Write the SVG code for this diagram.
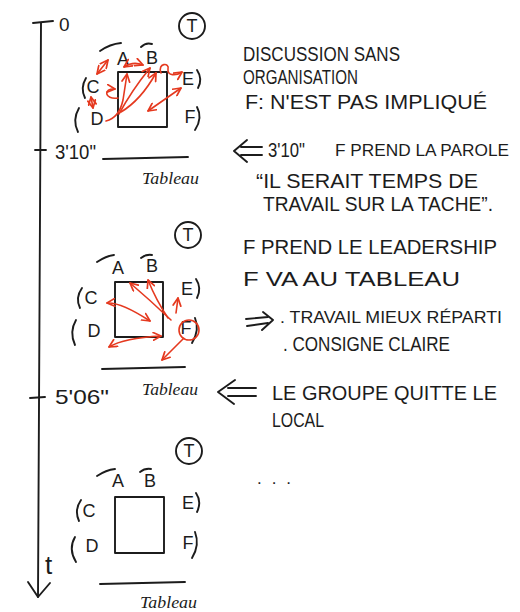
<svg xmlns="http://www.w3.org/2000/svg" width="520" height="612" viewBox="0 0 520 612">
<style>
.ink{fill:none;stroke:#1c1c1c;stroke-width:1.9;stroke-linecap:round;stroke-linejoin:round}
.red{fill:none;stroke:#e5391f;stroke-width:1.6;stroke-linecap:round;stroke-linejoin:round}
.t{font-family:"Liberation Sans",Arial,sans-serif;fill:#1c1c1c}
.lbl{font-family:"Liberation Sans",Arial,sans-serif;font-size:18px;fill:#1c1c1c;text-anchor:middle}
.note{font-family:"Liberation Sans",Arial,sans-serif;font-size:20px;fill:#1c1c1c}
.tab{font-family:"Liberation Serif","Times New Roman",serif;font-style:italic;font-size:17px;fill:#1c1c1c}
</style>
<defs>
<marker id="ah" viewBox="0 0 10 10" refX="9" refY="5" markerWidth="6" markerHeight="6" orient="auto-start-reverse">
<path d="M1,1 L9,5 L1,9" fill="none" stroke="#e5391f" stroke-width="1.8" stroke-linecap="round" stroke-linejoin="round"/>
</marker>
</defs>
<rect width="520" height="612" fill="#ffffff"/>

<g id="timeline">
<path class="ink" d="M41,23 L38,597"/>
<path class="ink" d="M33,23 L53,21"/>
<path class="ink" d="M28,582 L38,597 L50,583"/>
<path class="ink" d="M35,150 L46,150"/>
<path class="ink" d="M30,398 L45,397"/>
<text class="t" x="59" y="31" font-size="19">0</text>
<text class="t" x="55" y="159" font-size="21" textLength="41" lengthAdjust="spacingAndGlyphs">3'10"</text>
<text class="t" x="55" y="404" font-size="21" textLength="54" lengthAdjust="spacingAndGlyphs">5'06"</text>
<text class="t" x="45" y="574" font-size="26">t</text>
</g>

<g id="scene1">
<circle class="ink" cx="192" cy="26" r="13"/>
<text class="lbl" x="192" y="32">T</text>
<path class="ink" d="M100,51 Q110,44 121,43"/>
<path class="ink" d="M141,47 Q146,42 152,44"/>
<path class="ink" d="M86,78 Q80,88 85,98"/>
<path class="ink" d="M79,108 Q72,120 78,132"/>
<path class="ink" d="M197,70 Q203,79 198,88"/>
<path class="ink" d="M197,107 Q203,118 195,130"/>
<rect class="ink" x="118" y="72" width="49" height="55"/>
<text class="lbl" x="123" y="65">A</text>
<text class="lbl" x="152" y="64">B</text>
<text class="lbl" x="93" y="93">C</text>
<text class="lbl" x="97" y="125">D</text>
<text class="lbl" x="188" y="85">E</text>
<text class="lbl" x="190" y="123">F</text>
<path class="ink" d="M103,159 L188,157"/>
<text class="tab" x="142" y="184" textLength="57" lengthAdjust="spacingAndGlyphs">Tableau</text>
</g>

<g id="scene2">
<circle class="ink" cx="188" cy="235" r="13"/>
<text class="lbl" x="188" y="241">T</text>
<path class="ink" d="M97,262 Q106,256 114,255"/>
<path class="ink" d="M141,258 Q146,254 152,255"/>
<path class="ink" d="M82,288 Q75,298 80,308"/>
<path class="ink" d="M76,320 Q69,332 75,345"/>
<path class="ink" d="M196,279 Q202,288 197,298"/>
<path class="ink" d="M195,318 Q200,330 192,343"/>
<rect class="ink" x="115" y="282" width="48" height="55"/>
<text class="lbl" x="118" y="274">A</text>
<text class="lbl" x="152" y="272">B</text>
<text class="lbl" x="91" y="304">C</text>
<text class="lbl" x="94" y="337">D</text>
<text class="lbl" x="187" y="295">E</text>
<text class="lbl" x="186" y="334">F</text>
<path class="ink" d="M102,369 L185,367"/>
<text class="tab" x="142" y="395" textLength="56" lengthAdjust="spacingAndGlyphs">Tableau</text>
</g>

<g id="scene3">
<circle class="ink" cx="189" cy="451" r="13"/>
<text class="lbl" x="189" y="457">T</text>
<path class="ink" d="M97,476 Q106,470 115,469"/>
<path class="ink" d="M140,472 Q145,468 151,469"/>
<path class="ink" d="M81,500 Q74,510 79,521"/>
<path class="ink" d="M75,537 Q68,549 76,562"/>
<path class="ink" d="M196,493 Q202,502 197,512"/>
<path class="ink" d="M195,532 Q200,545 192,558"/>
<rect class="ink" x="115" y="497" width="49" height="56"/>
<text class="lbl" x="118" y="487">A</text>
<text class="lbl" x="150" y="487">B</text>
<text class="lbl" x="89" y="517">C</text>
<text class="lbl" x="92" y="552">D</text>
<text class="lbl" x="188" y="509">E</text>
<text class="lbl" x="188" y="549">F</text>
<path class="ink" d="M100,584 L185,582"/>
<text class="tab" x="140" y="608" textLength="57" lengthAdjust="spacingAndGlyphs">Tableau</text>
<text class="t" x="257" y="484" font-size="17" textLength="34" lengthAdjust="spacing">. . .</text>
</g>

<g id="connectors">
<path class="red" d="M97,74 L108,60" marker-start="url(#ah)" marker-end="url(#ah)"/>
<path class="red" d="M91,97 L93,108" marker-start="url(#ah)" marker-end="url(#ah)"/>
<path class="red" d="M124,67 Q133,61 143,65" marker-start="url(#ah)" marker-end="url(#ah)"/>
<path class="red" d="M161,73 C157,63 170,62 168,69 C167,76 176,76 182,72" marker-end="url(#ah)"/>
<path class="red" d="M106,121 Q119,118 123,100 L127,74" marker-end="url(#ah)"/>
<path class="red" d="M119,114 Q132,90 150,68" marker-end="url(#ah)"/>
<path class="red" d="M121,112 Q141,100 156,73" marker-end="url(#ah)"/>
<path class="red" d="M118,98 C104,100 103,88 115,89" marker-end="url(#ah)"/>
<path class="red" d="M181,88 L148,111" marker-start="url(#ah)" marker-end="url(#ah)"/>

<path class="red" d="M171,320 Q150,300 130,283" marker-end="url(#ah)"/>
<path class="red" d="M168,318 Q156,300 148,280" marker-end="url(#ah)"/>
<path class="red" d="M107,303 Q121,302 150,321" marker-start="url(#ah)" marker-end="url(#ah)"/>
<path class="red" d="M176,313 L178,298" marker-end="url(#ah)"/>
<path class="red" d="M109,347 Q124,338 161,336" marker-start="url(#ah)" marker-end="url(#ah)"/>
<circle class="red" cx="189" cy="330" r="10"/>
<path class="red" d="M183,339 L162,360" marker-end="url(#ah)"/>
</g>

<g id="notes">
<text class="note" x="243" y="61" textLength="157" lengthAdjust="spacingAndGlyphs">DISCUSSION SANS</text>
<text class="note" x="243" y="84" textLength="115" lengthAdjust="spacingAndGlyphs">ORGANISATION</text>
<text class="note" x="245" y="109" textLength="242" lengthAdjust="spacingAndGlyphs">F: N'EST PAS IMPLIQUÉ</text>
<path class="ink" d="M262,147 L241,147 M262,155 L241,155 M247,140 L234,151 L247,162"/>
<text class="note" x="268" y="157" textLength="37" lengthAdjust="spacingAndGlyphs">3'10"</text>
<text class="note" x="335" y="156" style="font-size:17px" textLength="174" lengthAdjust="spacingAndGlyphs">F PREND LA PAROLE</text>
<text class="note" x="256" y="188" textLength="222" lengthAdjust="spacingAndGlyphs">“IL SERAIT TEMPS DE</text>
<text class="note" x="263" y="211" textLength="230" lengthAdjust="spacingAndGlyphs">TRAVAIL SUR LA TACHE”.</text>
<text class="note" x="243" y="254" textLength="254" lengthAdjust="spacingAndGlyphs">F PREND LE LEADERSHIP</text>
<text class="note" x="243" y="286" textLength="217" lengthAdjust="spacingAndGlyphs">F  VA AU TABLEAU</text>
<path class="ink" d="M246,319 L268,317 M247,326 L268,323 M263,312 L273,320 L262,330"/>
<text class="note" x="280" y="323" style="font-size:17px" textLength="222" lengthAdjust="spacingAndGlyphs">. TRAVAIL MIEUX RÉPARTI</text>
<text class="note" x="283" y="351" textLength="167" lengthAdjust="spacingAndGlyphs">. CONSIGNE CLAIRE</text>
<path class="ink" d="M256,388 L228,388 M256,396 L228,396 M235,380 L218,392 L234,404"/>
<text class="note" x="272" y="400" textLength="225" lengthAdjust="spacingAndGlyphs">LE GROUPE QUITTE LE</text>
<text class="note" x="272" y="427" textLength="52" lengthAdjust="spacingAndGlyphs">LOCAL</text>
</g>
</svg>
